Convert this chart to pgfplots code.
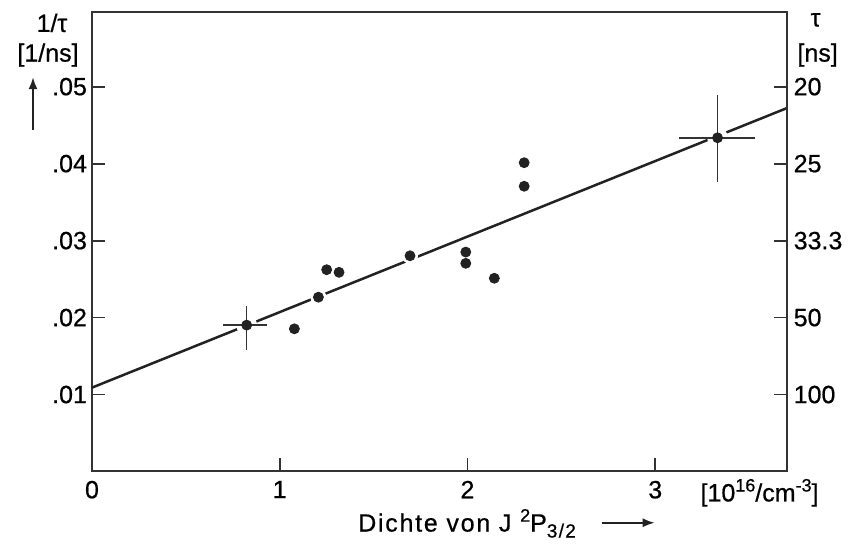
\documentclass[border=0pt]{standalone}
\usepackage{pgfplots}
\pgfplotsset{compat=1.18}
\usetikzlibrary{arrows.meta}
\usepackage{fontspec}
\setmainfont[FakeBold=0.6]{Liberation Sans}
\newfontfamily\spaced[LetterSpace=7, FakeBold=0.6]{Liberation Sans}
\newcommand{\up}[1]{\raisebox{0.75ex}{\fontsize{9}{10}\selectfont #1}}
\newcommand{\dn}[1]{\raisebox{-0.45ex}{\fontsize{9.5}{10}\selectfont #1}}
\definecolor{ink}{HTML}{222222}
\definecolor{axisink}{HTML}{333333}
\begin{document}
\begin{tikzpicture}[font=\fontsize{12.5}{15}\selectfont]
\pgfplotsset{
  common/.style={
    scale only axis, width=347.5pt, height=229.5pt,
    xmin=0, xmax=3.70, ymin=0.0001, ymax=0.0597,
    scaled y ticks=false, scaled x ticks=false,
    axis line style={line width=1pt, draw=axisink},
    tick style={line width=0.9pt, draw=axisink},
    tick align=inside, major tick length=6.5pt,
    /pgf/number format/assume math mode=true,
    clip=false, clip mode=individual,
  }
}
\begin{axis}[common,
  xtick={0,1,2,3}, xtick pos=bottom,
  xticklabel style={yshift=-1.5pt},
  ytick={0.01,0.02,0.03,0.04,0.05},
  yticklabels={.01,.02,.03,.04,.05}, ytick pos=left,
  yticklabel style={xshift=1pt},
]
% page extent
\path (rel axis cs:-0.1324,-0.1656) rectangle (rel axis cs:1.0892,1.0261);

% fitted straight line
\addplot[ink, line width=1.25pt] coordinates {(0,0.0109) (3.70,0.0472)};

% white discs that interrupt the line around points lying on it
\addplot[white, only marks, mark=*, mark size=5pt]
  coordinates {(0.824,0.01902) (3.332,0.04336)};
\addplot[white, only marks, mark=*, mark size=3.8pt]
  coordinates {(1.206,0.02265) (1.694,0.02803)};

% measurements with error crosses
\addplot[ink, draw=none, mark=*, mark size=2.5pt,
  error bars/.cd, x dir=both, x explicit, y dir=both, y explicit,
  error mark=none, error bar style={line width=0.8pt, axisink, solid}]
  coordinates {
    (0.824,0.01902) += (0.110,0.00246) -= (0.125,0.00328)
    (3.332,0.04336) += (0.200,0.00558) -= (0.205,0.00576)
  };

% single measurements
\addplot[ink, only marks, mark=*, mark size=2.5pt]
  coordinates {
    (1.078,0.01854) (1.206,0.02265) (1.250,0.02622) (1.316,0.02588)
    (1.694,0.02803) (1.991,0.02851) (1.991,0.02705) (2.143,0.02511)
    (2.302,0.04012) (2.302,0.03706)
  };

% axis titles
\node at (rel axis cs:-0.0576,0.976) {1/τ};
\node at (rel axis cs:-0.0633,0.906) {[1/ns]};
\draw[-{Latex[length=6pt,width=4.5pt]}, line width=1pt, ink]
  (rel axis cs:-0.0849,0.743) -- (rel axis cs:-0.0849,0.858);
\node at (rel axis cs:1.0417,0.9826) {τ};
\node at (rel axis cs:1.0446,0.906) {[ns]};
\node at (rel axis cs:0.961,-0.048) {[10\up{16}/cm\up{-3}]};
\node[anchor=base west, inner sep=0pt] at (rel axis cs:0.3827,-0.1325)
  {\spaced Dichte von J \up{2}P\dn{3/2}};
\draw[-{Latex[length=6pt,width=4.5pt]}, line width=1pt, ink]
  (rel axis cs:0.7338,-0.1133) -- (rel axis cs:0.8101,-0.1133);
\end{axis}

% lifetime scale on the right
\begin{axis}[common,
  axis x line=none, axis y line*=right,
  ytick={0.01,0.02,0.03,0.04,0.05},
  yticklabels={100,50,33.3,25,20},
]
\end{axis}
\end{tikzpicture}
\end{document}
